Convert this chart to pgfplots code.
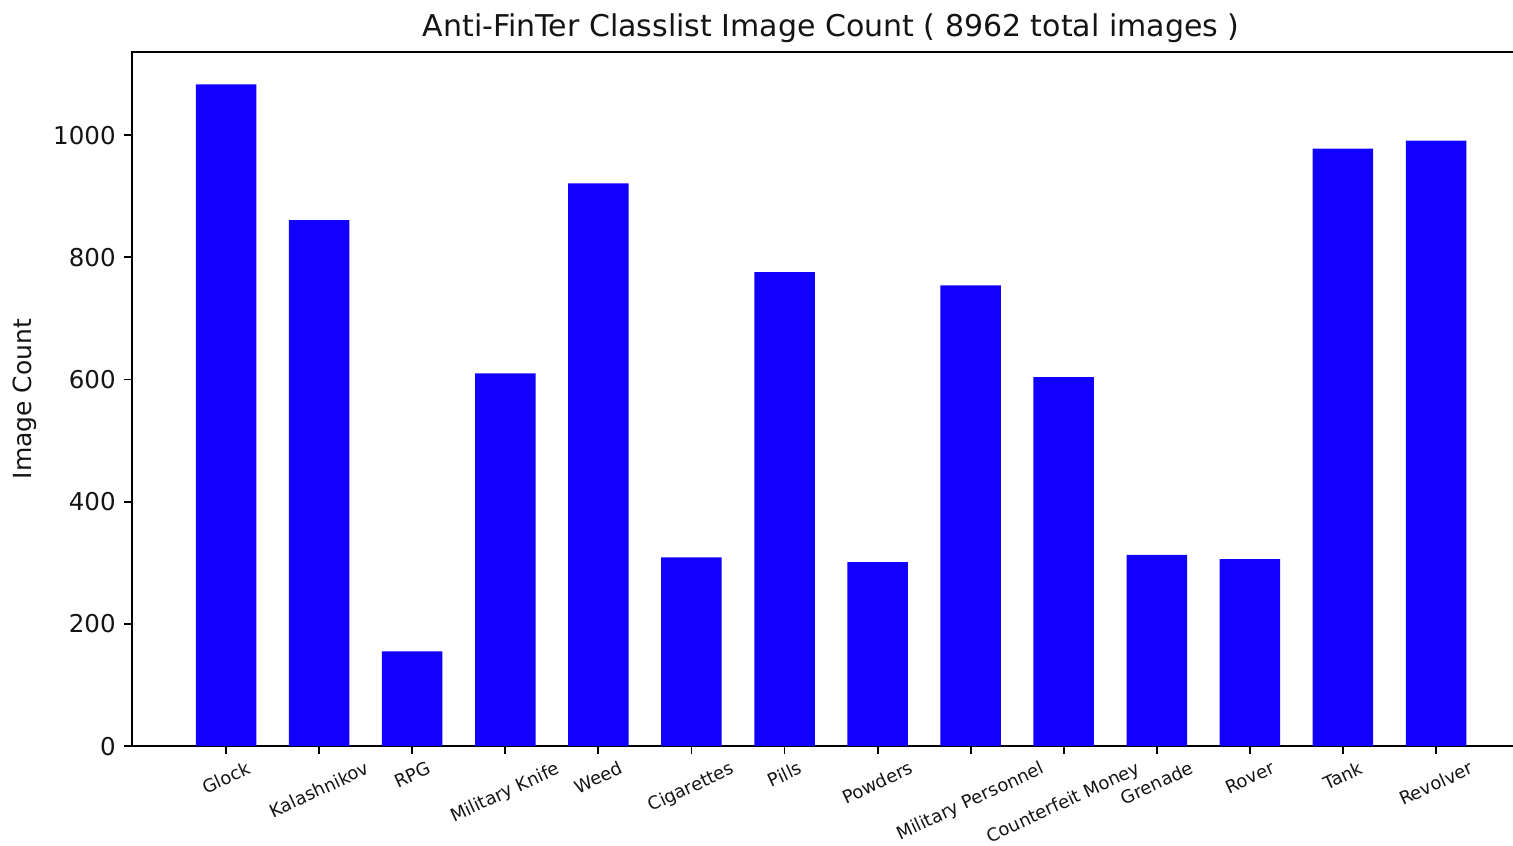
\documentclass[border=0pt]{standalone}
\usepackage{pgfplots}
\pgfplotsset{compat=1.18}
\usepackage{graphicx}
\usepackage{fontspec}
\setmainfont{DejaVu Sans}
\definecolor{barblue}{RGB}{18,0,255}
\definecolor{txt}{RGB}{20,20,20}
\begin{document}
\begin{tikzpicture}
\begin{axis}[
  name=ax,
  scale only axis,
  width=615.1pt, height=305.4pt,
  xmin=-1.01, xmax=14.01, ymin=0, ymax=1136,
  ybar, bar width=0.65, bar shift=0pt,
  xtick={0,...,13},
  xticklabels={\rotatebox{25}{Glock},\rotatebox{25}{Kalashnikov},\rotatebox{25}{RPG},\rotatebox{25}{Military Knife},\rotatebox{25}{Weed},\rotatebox{25}{Cigarettes},\rotatebox{25}{Pills},\rotatebox{25}{Powders},\rotatebox{25}{Military Personnel},\rotatebox{25}{Counterfeit Money},\rotatebox{25}{Grenade},\rotatebox{25}{Rover},\rotatebox{25}{Tank},\rotatebox{25}{Revolver}},
  ytick={0,200,400,600,800,1000},
  tick pos=lower,
  tick align=outside,
  major tick length=3.5pt,
  every tick/.style={line width=0.8pt, black},
  axis line style={line width=0.8pt, black},
  /pgf/number format/assume math mode=true,
  /pgf/number format/1000 sep={},
  x tick label style={font=\fontsize{7.9}{9}\selectfont, anchor=north, inner sep=0pt, yshift=-2.6pt, text=txt},
  y tick label style={font=\fontsize{10.8}{12}\selectfont, anchor=east, inner sep=0pt, xshift=-3.5pt, text=txt},
  ylabel={Image Count},
  ylabel style={font=\fontsize{11}{13}\selectfont, at={(axis description cs:-0.0764,0.5)}, anchor=center, rotate=0, text=txt},
  title={Anti-FinTer Classlist Image Count ( 8962 total images )},
  title style={font=\fontsize{13.2}{15}\selectfont, at={(axis description cs:0.5,1)}, anchor=base, yshift=1pt, text=txt},
]
\addplot[fill=barblue, draw=none] coordinates {
(0,1083) (1,861) (2,155) (3,610) (4,921) (5,309) (6,776) (7,301) (8,754) (9,604) (10,313) (11,306) (12,978) (13,991)
};
\end{axis}
\pgfresetboundingbox
\path[use as bounding box] ([xshift=-58.1pt,yshift=-43.6pt]ax.south west) rectangle ([xshift=-7.5pt,yshift=22.9pt]ax.north east);
\end{tikzpicture}
\end{document}
